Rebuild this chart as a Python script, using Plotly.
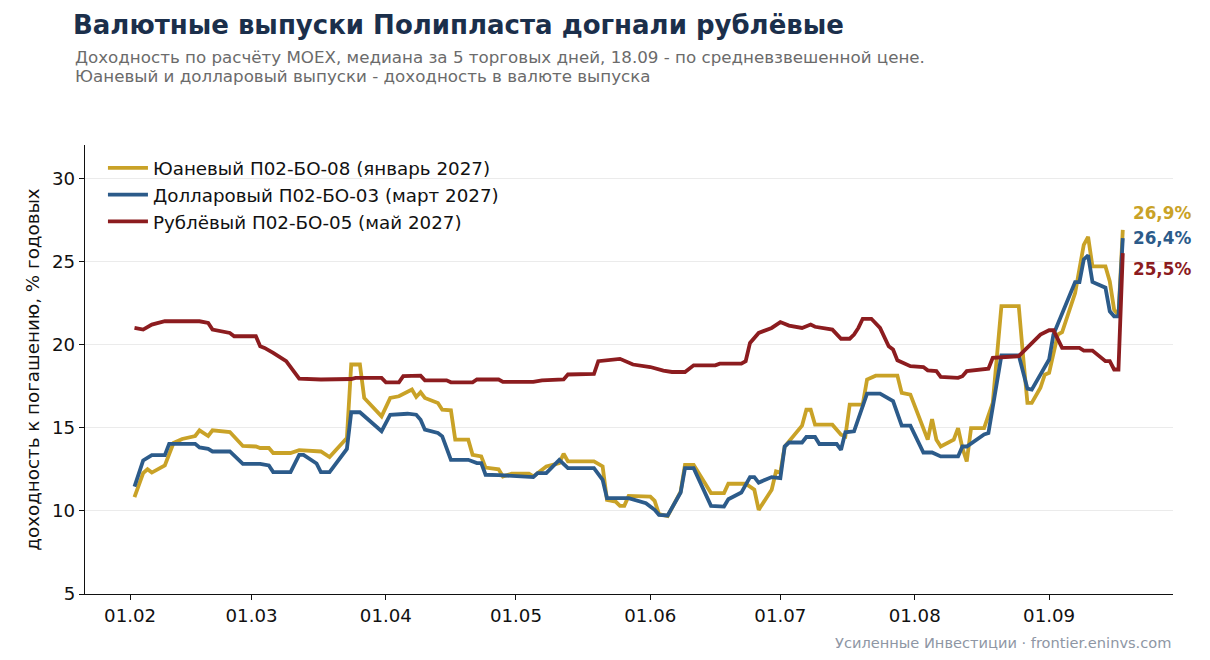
import plotly.graph_objects as go

# Юаневый П02-БО-08
dates_cny = [
    "2025-02-02", "2025-02-04", "2025-02-05", "2025-02-06", "2025-02-09", "2025-02-11", "2025-02-13",
    "2025-02-16", "2025-02-17", "2025-02-19", "2025-02-20", "2025-02-24", "2025-02-27",
    "2025-03-02", "2025-03-03", "2025-03-05", "2025-03-06", "2025-03-10", "2025-03-12", "2025-03-17",
    "2025-03-19", "2025-03-23", "2025-03-24", "2025-03-26", "2025-03-27", "2025-03-31",
    "2025-04-02", "2025-04-04", "2025-04-07", "2025-04-08", "2025-04-09", "2025-04-10", "2025-04-13",
    "2025-04-14", "2025-04-16", "2025-04-17", "2025-04-20", "2025-04-21", "2025-04-23", "2025-04-24",
    "2025-04-27", "2025-04-28", "2025-04-30",
    "2025-05-04", "2025-05-05", "2025-05-08", "2025-05-11", "2025-05-12", "2025-05-13", "2025-05-19",
    "2025-05-21", "2025-05-22", "2025-05-24", "2025-05-25", "2025-05-26", "2025-05-27",
    "2025-06-01", "2025-06-02", "2025-06-03", "2025-06-05", "2025-06-08", "2025-06-09", "2025-06-11",
    "2025-06-15", "2025-06-18", "2025-06-19", "2025-06-23", "2025-06-25", "2025-06-26", "2025-06-29",
    "2025-06-30",
    "2025-07-01", "2025-07-02", "2025-07-06", "2025-07-07", "2025-07-08", "2025-07-09", "2025-07-13",
    "2025-07-15", "2025-07-16", "2025-07-17", "2025-07-20", "2025-07-21", "2025-07-23", "2025-07-28",
    "2025-07-29", "2025-07-31",
    "2025-08-04", "2025-08-05", "2025-08-06", "2025-08-07", "2025-08-10", "2025-08-11", "2025-08-12",
    "2025-08-13", "2025-08-14", "2025-08-17", "2025-08-18", "2025-08-19", "2025-08-21", "2025-08-25",
    "2025-08-26", "2025-08-27", "2025-08-28", "2025-08-30", "2025-08-31",
    "2025-09-01", "2025-09-03", "2025-09-04", "2025-09-07", "2025-09-09", "2025-09-10", "2025-09-11",
    "2025-09-14", "2025-09-15", "2025-09-16", "2025-09-17", "2025-09-18",
]
ytm_cny = [
    10.83, 12.27, 12.5, 12.3, 12.73, 14.08, 14.32, 14.5, 14.84, 14.5, 14.84, 14.74, 13.9,
    13.87, 13.78, 13.78, 13.48, 13.48, 13.65, 13.57, 13.23, 14.38, 18.8, 18.8, 16.79, 15.68,
    16.79, 16.89, 17.3, 16.85, 17.13, 16.79, 16.49, 16.08, 16.05, 14.28, 14.28, 13.37, 13.27,
    12.6, 12.5, 12.07, 12.23,
    12.23, 12.07, 12.67, 12.87, 13.43, 12.97, 12.97, 12.67, 10.66, 10.56, 10.3, 10.3, 10.9,
    10.86, 10.6, 9.8, 9.68, 11.16, 12.77, 12.77, 11.07, 11.07, 11.63, 11.63, 11.27, 10.06, 11.27,
    12.37,
    12.3, 13.87, 15.12, 16.08, 16.08, 15.18, 15.18, 14.58, 14.48, 16.39, 16.39, 17.9, 18.13, 18.13,
    17.09, 16.99,
    14.28, 15.52, 14.28, 13.87, 14.28, 14.98, 13.78, 12.97, 14.98, 14.98, 15.78, 16.49, 22.31, 22.31,
    19.3, 16.49, 16.49, 17.4, 18.19,
    18.3, 20.6, 20.74, 23.1, 26.0, 26.48, 24.7, 24.7, 23.8, 22.1, 21.75, 26.9,
]

# Долларовый П02-БО-03
dates_usd = [
    "2025-02-02", "2025-02-04", "2025-02-06", "2025-02-09", "2025-02-10", "2025-02-16", "2025-02-17",
    "2025-02-19", "2025-02-20", "2025-02-24", "2025-02-27",
    "2025-03-03", "2025-03-05", "2025-03-06", "2025-03-10", "2025-03-12", "2025-03-13", "2025-03-16",
    "2025-03-17", "2025-03-19", "2025-03-23", "2025-03-24", "2025-03-26", "2025-03-31",
    "2025-04-02", "2025-04-06", "2025-04-08", "2025-04-09", "2025-04-10", "2025-04-13", "2025-04-14",
    "2025-04-16", "2025-04-20", "2025-04-22", "2025-04-23", "2025-04-24", "2025-04-27",
    "2025-05-05", "2025-05-06", "2025-05-08", "2025-05-11", "2025-05-13", "2025-05-19", "2025-05-21",
    "2025-05-22", "2025-05-27", "2025-05-31",
    "2025-06-02", "2025-06-03", "2025-06-05", "2025-06-08", "2025-06-09", "2025-06-11", "2025-06-15",
    "2025-06-18", "2025-06-19", "2025-06-22", "2025-06-24", "2025-06-25", "2025-06-26", "2025-06-29",
    "2025-07-01", "2025-07-02", "2025-07-03", "2025-07-06", "2025-07-07", "2025-07-09", "2025-07-10",
    "2025-07-14", "2025-07-15", "2025-07-16", "2025-07-18", "2025-07-21", "2025-07-24", "2025-07-27",
    "2025-07-29", "2025-07-31",
    "2025-08-03", "2025-08-05", "2025-08-07", "2025-08-11", "2025-08-12", "2025-08-13", "2025-08-17",
    "2025-08-18", "2025-08-21", "2025-08-25", "2025-08-27", "2025-08-28",
    "2025-09-01", "2025-09-02", "2025-09-07", "2025-09-08", "2025-09-09", "2025-09-10", "2025-09-11",
    "2025-09-14", "2025-09-15", "2025-09-16", "2025-09-17", "2025-09-18",
]
ytm_usd = [
    11.46, 13.03, 13.35, 13.35, 14.03, 14.03, 13.81, 13.73, 13.57, 13.57, 12.83,
    12.83, 12.73, 12.33, 12.33, 13.37, 13.37, 12.85, 12.33, 12.33, 13.72, 15.93, 15.93, 14.79,
    15.78, 15.84, 15.78, 15.48, 14.88, 14.68, 14.48, 13.07, 13.07, 12.87, 12.87, 12.17, 12.15,
    12.03, 12.27, 12.27, 13.07, 12.57, 12.57, 11.87, 10.76, 10.76, 10.46,
    10.06, 9.76, 9.72, 11.1, 12.57, 12.57, 10.3, 10.26, 10.7, 11.1, 12.03, 12.03, 11.7, 12.03,
    11.97, 13.87, 14.11, 14.11, 14.44, 14.44, 14.02, 14.02, 13.67, 14.72, 14.78, 17.05, 17.05, 16.6,
    15.12, 15.12,
    13.51, 13.51, 13.27, 13.27, 13.87, 13.87, 14.6, 14.68, 19.35, 19.35, 17.35, 17.29,
    19.1, 20.6, 23.76, 23.76, 25.12, 25.36, 23.76, 23.42, 22.0, 21.7, 21.7, 26.4,
]

# Рублёвый П02-БО-05
dates_rub = [
    "2025-02-02", "2025-02-04", "2025-02-06", "2025-02-07", "2025-02-09", "2025-02-17", "2025-02-19",
    "2025-02-20", "2025-02-24", "2025-02-25",
    "2025-03-02", "2025-03-03", "2025-03-04", "2025-03-06", "2025-03-09", "2025-03-12", "2025-03-17",
    "2025-03-24", "2025-03-25", "2025-03-31",
    "2025-04-01", "2025-04-04", "2025-04-05", "2025-04-09", "2025-04-10", "2025-04-15", "2025-04-16",
    "2025-04-21", "2025-04-22", "2025-04-27", "2025-04-28",
    "2025-05-05", "2025-05-07", "2025-05-12", "2025-05-13", "2025-05-19", "2025-05-20", "2025-05-25",
    "2025-05-28",
    "2025-06-01", "2025-06-04", "2025-06-06", "2025-06-09", "2025-06-11", "2025-06-16", "2025-06-17",
    "2025-06-22", "2025-06-23", "2025-06-24", "2025-06-26", "2025-06-29",
    "2025-07-01", "2025-07-03", "2025-07-06", "2025-07-08", "2025-07-09", "2025-07-13", "2025-07-15",
    "2025-07-17", "2025-07-18", "2025-07-19", "2025-07-20", "2025-07-22", "2025-07-24", "2025-07-26",
    "2025-07-27", "2025-07-28", "2025-07-31",
    "2025-08-03", "2025-08-04", "2025-08-06", "2025-08-07", "2025-08-11", "2025-08-12", "2025-08-13",
    "2025-08-18", "2025-08-19", "2025-08-25", "2025-08-28", "2025-08-30",
    "2025-09-01", "2025-09-02", "2025-09-04", "2025-09-08", "2025-09-09", "2025-09-11", "2025-09-14",
    "2025-09-15", "2025-09-16", "2025-09-17", "2025-09-18",
]
ytm_rub = [
    21.0, 20.9, 21.2, 21.25, 21.4, 21.4, 21.3, 20.9, 20.7, 20.5,
    20.5, 19.9, 19.8, 19.5, 19.0, 17.95, 17.9, 17.93, 18.0, 18.0,
    17.73, 17.73, 18.1, 18.13, 17.85, 17.85, 17.73, 17.73, 17.9, 17.9, 17.75,
    17.75, 17.85, 17.9, 18.2, 18.23, 19.0, 19.14, 18.8,
    18.65, 18.43, 18.35, 18.35, 18.75, 18.75, 18.85, 18.85, 19.0, 20.1, 20.7, 21.0,
    21.35, 21.14, 21.0, 21.2, 21.07, 20.9, 20.35, 20.35, 20.6, 21.0, 21.55, 21.55, 21.0, 19.9,
    19.7, 19.05, 18.7,
    18.65, 18.45, 18.4, 18.05, 18.0, 18.1, 18.4, 18.55, 19.2, 19.3, 20.1, 20.6,
    20.86, 20.86, 19.8, 19.8, 19.64, 19.64, 19.0, 19.0, 18.5, 18.5, 25.5,
]

names = [
    "Юаневый П02-БО-08 (январь 2027)",
    "Долларовый П02-БО-03 (март 2027)",
    "Рублёвый П02-БО-05 (май 2027)",
]
colors = ["#c9a227", "#2c5b8a", "#8c1c1f"]
label_shift = [17, 0, -16]  # сдвиг подписей, чтобы не налезали друг на друга

month_ticks = ["2025-02-01", "2025-03-01", "2025-04-01", "2025-05-01",
               "2025-06-01", "2025-07-01", "2025-08-01", "2025-09-01"]
month_labels = ["01.02", "01.03", "01.04", "01.05", "01.06", "01.07", "01.08", "01.09"]
y_ticks = [5, 10, 15, 20, 25, 30]

FONT = "DejaVu Sans"
W, H = 1202, 652  # страница добавляет отступ 8px слева и сверху
PL, PT, PR, PB = 77, 137, 37, 66
PH = H - PT - PB


def py(px):
    # координата y в пикселях фигуры -> доля области графика
    return (H - PB - px) / PH


fig = go.Figure()
series = [(dates_cny, ytm_cny), (dates_usd, ytm_usd), (dates_rub, ytm_rub)]
for i, (d, v) in enumerate(series):
    fig.add_trace(
        go.Scatter(
            x=d, y=v, mode="lines", name=names[i],
            line=dict(color=colors[i], width=3.8),
        )
    )
    # подпись последнего значения справа
    fig.add_annotation(
        x=d[-1], y=v[-1], xref="x", yref="y",
        text="<b>" + f"{v[-1]:.1f}%".replace(".", ",") + "</b>",
        showarrow=False, xanchor="left", yanchor="middle",
        xshift=8, yshift=label_shift[i],
        font=dict(family=FONT, size=16.8, color=colors[i]),
    )

fig.update_layout(
    width=W, height=H,
    margin=dict(l=PL, r=PR, t=PT, b=PB),
    paper_bgcolor="white", plot_bgcolor="white",
    font=dict(family=FONT, size=18, color="#111111"),
    showlegend=True,
    legend=dict(
        x=0.0165, y=0.99, xanchor="left", yanchor="top",
        bgcolor="rgba(255,255,255,0)", itemwidth=40,
        font=dict(family=FONT, size=18.3, color="#111111"),
    ),
    title=dict(
        text="<b>Валютные выпуски Полипласта догнали рублёвые</b>",
        xref="container", yref="container", x=65 / W, y=1 - 17 / H,
        xanchor="left", yanchor="middle",
        font=dict(family=FONT, size=26, color="#1b2f4b"),
    ),
)

subtitle = [
    "Доходность по расчёту MOEX, медиана за 5 торговых дней, 18.09 - по средневзвешенной цене.",
    "Юаневый и долларовый выпуски - доходность в валюте выпуска",
]
for k, line in enumerate(subtitle):
    fig.add_annotation(
        text=line, xref="paper", yref="paper", x=-12 / (W - PL - PR), y=py(49 + 19 * k),
        xanchor="left", yanchor="middle", align="left", showarrow=False,
        font=dict(family=FONT, size=16.7, color="#6b6b6b"),
    )
fig.add_annotation(
    text="Усиленные Инвестиции · frontier.eninvs.com",
    xref="paper", yref="paper", x=1, y=py(634),
    xanchor="right", yanchor="middle", showarrow=False,
    font=dict(family=FONT, size=14.6, color="#8e96a4"),
)

fig.update_xaxes(
    type="date",
    range=["2025-01-21 14:00", "2025-09-29 14:00"],
    tickvals=month_ticks, ticktext=month_labels,
    showgrid=False, zeroline=False,
    showline=True, linecolor="#111111", linewidth=1.3,
    ticks="outside", ticklen=5, tickcolor="#111111",
    tickfont=dict(family=FONT, size=18.2, color="#111111"),
)
fig.update_yaxes(
    range=[5, 32], tickvals=y_ticks,
    showgrid=True, gridcolor="#ebebeb", gridwidth=1, zeroline=False,
    showline=True, linecolor="#111111", linewidth=1.3,
    ticks="outside", ticklen=5, tickcolor="#111111",
    tickfont=dict(family=FONT, size=18.2, color="#111111"),
    title=dict(text="доходность к погашению, % годовых",
               font=dict(family=FONT, size=18.3, color="#111111"), standoff=7),
)

fig.write_html("out.html")
